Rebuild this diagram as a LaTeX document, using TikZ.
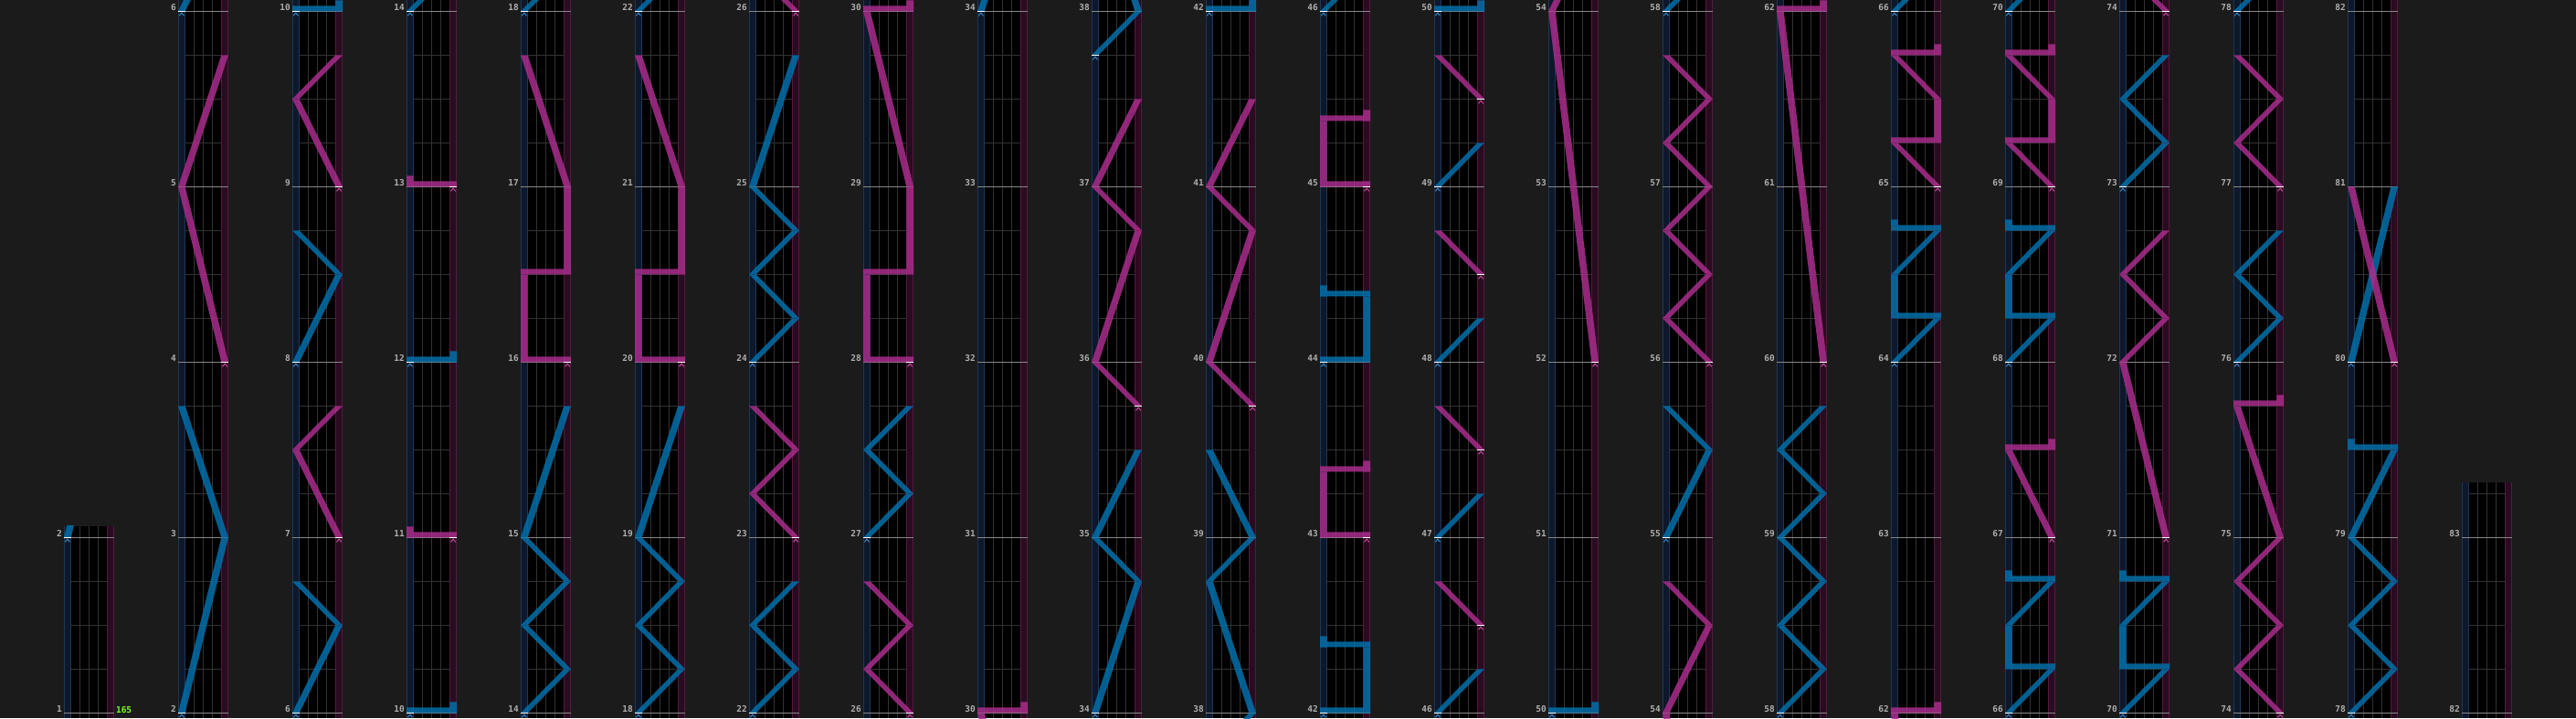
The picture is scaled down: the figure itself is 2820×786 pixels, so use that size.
\documentclass[tikz,border=0pt]{standalone}
\usepackage{fontspec}
\newfontfamily\lblfont{DejaVu Sans Mono}
\definecolor{bgc}{RGB}{27,27,27}
\definecolor{lanebf}{RGB}{14,24,44}
\definecolor{lanebb}{RGB}{30,55,85}
\definecolor{lanepf}{RGB}{42,12,32}
\definecolor{lanepb}{RGB}{85,25,65}
\definecolor{gridc}{RGB}{50,50,50}
\definecolor{measc}{RGB}{135,135,135}
\definecolor{lzb}{RGB}{0,112,170}
\definecolor{lzp}{RGB}{170,45,140}
\definecolor{mkb}{RGB}{60,140,200}
\definecolor{mkp}{RGB}{200,80,160}
\definecolor{lblc}{RGB}{175,175,175}
\definecolor{bpmc}{RGB}{125,255,30}
\tikzset{
  lasb/.style={fill=lzb},
  lasp/.style={fill=lzp},
  mkw/.style={draw=white,line width=0.28mm},
  mkcb/.style={draw=mkb,line width=0.18mm},
  mkcp/.style={draw=mkp,line width=0.18mm},
  gridline/.style={draw=gridc,line width=0.2mm},
  measline/.style={draw=measc,line width=0.22mm},
  lbl/.style={text=lblc,font=\lblfont\bfseries\fontsize{5.4}{6}\selectfont,inner sep=0pt},
}
\newif\ifmarkpass
\newcommand\Lz[5]{%
 \ifmarkpass\else\def\tmpc{#1}\ifx\tmpc\onlyc
 \ifdim #4pt<\Ta pt\relax\else\ifdim #2pt>\Tb pt\relax\else
 \fill[las#1] ({\colx+#3*47.3},{780.3-192*(#2-\tbase)}) -- ++(7.7,0)
   -- ({\colx+#5*47.3+7.7},{780.3-192*(#4-\tbase)}) -- ++(-7.7,0) -- cycle;
 \fi\fi\fi\fi}
\newcommand\Sl[4]{%
 \ifmarkpass\else\def\tmpc{#1}\ifx\tmpc\onlyc
 \ifdim #2pt<\Ta pt\relax\else\ifdim #2pt>\Tb pt\relax\else
 \fill[las#1] ({\colx+min(#3,#4)*47.3},{780.3-192*(#2-\tbase)}) rectangle ({\colx+max(#3,#4)*47.3+7.7},{774.3-192*(#2-\tbase)});
 \fi\fi\fi\fi}
\newcommand\Tl[3]{%
 \ifmarkpass\else\def\tmpc{#1}\ifx\tmpc\onlyc
 \ifdim #2pt<\Ta pt\relax\else\ifdim #2pt>\Tb pt\relax\else
 \fill[las#1] ({\colx+#3*47.3},{780.3-192*(#2-\tbase)}) rectangle ({\colx+#3*47.3+7.7},{768.3-192*(#2-\tbase)});
 \fi\fi\fi\fi}
\newcommand\Mk[3]{%
 \ifmarkpass
 \ifdim #2pt<\Ta pt\relax\else\ifdim #2pt>\Tb pt\relax\else
 \pgfmathsetmacro\mkx{\colx+#3*47.3}\pgfmathsetmacro\mky{780.3-192*(#2-\tbase)}%
 \draw[mkc#1] (\mkx+1.2,\mky+5) -- (\mkx+3.85,\mky+1.8) -- (\mkx+6.5,\mky+5);
 \draw[mkw] (\mkx,\mky) -- (\mkx+7.7,\mky);
 \fi\fi\fi}
\newcommand\chain[2]{%
  \gdef\prevt{}%
  \foreach \myT/\myP in {#2}{%
    \ifx\prevt\empty\else\Lz{#1}{\prevt}{\prevp}{\myT}{\myP}\fi
    \xdef\prevt{\myT}\xdef\prevp{\myP}%
  }}
\newcommand\AllLasers{%
\chain{b}{2/0,3/1,3.75/0}\Mk{b}{2}{0}
\chain{p}{4/1,5/0,5.75/1}\Mk{p}{4}{1}
\chain{b}{6/0,6.5/1,6.75/0}\Mk{b}{6}{0}
\chain{p}{7/1,7.5/0,7.75/1}\Mk{p}{7}{1}
\chain{b}{8/0,8.5/1,8.75/0}\Mk{b}{8}{0}
\chain{p}{9/1,9.5/0,9.75/1}\Mk{p}{9}{1}
\Sl{b}{10}{0}{1}\Tl{b}{10}{1}\Mk{b}{10}{0}
\Sl{p}{11}{1}{0}\Tl{p}{11}{0}\Mk{p}{11}{1}
\Sl{b}{12}{0}{1}\Tl{b}{12}{1}\Mk{b}{12}{0}
\Sl{p}{13}{1}{0}\Tl{p}{13}{0}\Mk{p}{13}{1}
\chain{b}{14/0,14.25/1,14.5/0,14.75/1,15/0,15.75/1}\Mk{b}{14}{0}
\Sl{p}{16}{1}{0}\chain{p}{16/0,16.5/0}\Sl{p}{16.5}{0}{1}\chain{p}{16.5/1,17/1,17.75/0}\Mk{p}{16}{1}
\chain{b}{18/0,18.25/1,18.5/0,18.75/1,19/0,19.75/1}\Mk{b}{18}{0}
\Sl{p}{20}{1}{0}\chain{p}{20/0,20.5/0}\Sl{p}{20.5}{0}{1}\chain{p}{20.5/1,21/1,21.75/0}\Mk{p}{20}{1}
\chain{b}{22/0,22.25/1,22.5/0,22.75/1}\Mk{b}{22}{0}
\chain{p}{23/1,23.25/0,23.5/1,23.75/0}\Mk{p}{23}{1}
\chain{b}{24/0,24.25/1,24.5/0,24.75/1,25/0,25.75/1}\Mk{b}{24}{0}
\chain{p}{26/1,26.25/0,26.5/1,26.75/0}\Mk{p}{26}{1}
\chain{b}{27/0,27.25/1,27.5/0,27.75/1}\Mk{b}{27}{0}
\Sl{p}{28}{1}{0}\chain{p}{28/0,28.5/0}\Sl{p}{28.5}{0}{1}\chain{p}{28.5/1,29/1,30/0}\Sl{p}{30}{0}{1}\Tl{p}{30}{1}\Mk{p}{28}{1}
\chain{b}{34/0,34.75/1,35/0,35.5/1}\Mk{b}{34}{0}
\chain{p}{35.75/1,36/0,36.75/1,37/0,37.5/1}\Mk{p}{35.75}{1}
\chain{b}{37.75/0,38/1,38.75/0,39/1,39.5/0}\Mk{b}{37.75}{0}
\chain{p}{39.75/1,40/0,40.75/1,41/0,41.5/1}\Mk{p}{39.75}{1}
\Sl{b}{42}{0}{1}\chain{b}{42/1,42.375/1}\Sl{b}{42.375}{1}{0}\Tl{b}{42.375}{0}\Mk{b}{42}{0}
\Sl{p}{43}{1}{0}\chain{p}{43/0,43.375/0}\Sl{p}{43.375}{0}{1}\Tl{p}{43.375}{1}\Mk{p}{43}{1}
\Sl{b}{44}{0}{1}\chain{b}{44/1,44.375/1}\Sl{b}{44.375}{1}{0}\Tl{b}{44.375}{0}\Mk{b}{44}{0}
\Sl{p}{45}{1}{0}\chain{p}{45/0,45.375/0}\Sl{p}{45.375}{0}{1}\Tl{p}{45.375}{1}\Mk{p}{45}{1}
\chain{b}{46/0,46.25/1}\Mk{b}{46}{0}
\chain{p}{46.5/1,46.75/0}\Mk{p}{46.5}{1}
\chain{b}{47/0,47.25/1}\Mk{b}{47}{0}
\chain{p}{47.5/1,47.75/0}\Mk{p}{47.5}{1}
\chain{b}{48/0,48.25/1}\Mk{b}{48}{0}
\chain{p}{48.5/1,48.75/0}\Mk{p}{48.5}{1}
\chain{b}{49/0,49.25/1}\Mk{b}{49}{0}
\chain{p}{49.5/1,49.75/0}\Mk{p}{49.5}{1}
\Sl{b}{50}{0}{1}\Tl{b}{50}{1}\Mk{b}{50}{0}
\chain{p}{52/1,54/0,54.5/1,54.75/0}\Mk{p}{52}{1}
\chain{b}{55/0,55.5/1,55.75/0}\Mk{b}{55}{0}
\chain{p}{56/1,56.25/0,56.5/1,56.75/0,57/1,57.25/0,57.5/1,57.75/0}\Mk{p}{56}{1}
\chain{b}{58/0,58.25/1,58.5/0,58.75/1,59/0,59.25/1,59.5/0,59.75/1}\Mk{b}{58}{0}
\chain{p}{60/1,62/0}\Sl{p}{62}{0}{1}\Tl{p}{62}{1}\Mk{p}{60}{1}
\chain{b}{64/0,64.25/1}\Sl{b}{64.25}{1}{0}\chain{b}{64.25/0,64.5/0,64.75/1}\Sl{b}{64.75}{1}{0}\Tl{b}{64.75}{0}\Mk{b}{64}{0}
\chain{p}{65/1,65.25/0}\Sl{p}{65.25}{0}{1}\chain{p}{65.25/1,65.5/1,65.75/0}\Sl{p}{65.75}{0}{1}\Tl{p}{65.75}{1}\Mk{p}{65}{1}
\chain{b}{66/0,66.25/1}\Sl{b}{66.25}{1}{0}\chain{b}{66.25/0,66.5/0,66.75/1}\Sl{b}{66.75}{1}{0}\Tl{b}{66.75}{0}\Mk{b}{66}{0}
\chain{p}{67/1,67.5/0}\Sl{p}{67.5}{0}{1}\Tl{p}{67.5}{1}\Mk{p}{67}{1}
\chain{b}{68/0,68.25/1}\Sl{b}{68.25}{1}{0}\chain{b}{68.25/0,68.5/0,68.75/1}\Sl{b}{68.75}{1}{0}\Tl{b}{68.75}{0}\Mk{b}{68}{0}
\chain{p}{69/1,69.25/0}\Sl{p}{69.25}{0}{1}\chain{p}{69.25/1,69.5/1,69.75/0}\Sl{p}{69.75}{0}{1}\Tl{p}{69.75}{1}\Mk{p}{69}{1}
\chain{b}{70/0,70.25/1}\Sl{b}{70.25}{1}{0}\chain{b}{70.25/0,70.5/0,70.75/1}\Sl{b}{70.75}{1}{0}\Tl{b}{70.75}{0}\Mk{b}{70}{0}
\chain{p}{71/1,72/0,72.25/1,72.5/0,72.75/1}\Mk{p}{71}{1}
\chain{b}{73/0,73.25/1,73.5/0,73.75/1}\Mk{b}{73}{0}
\chain{p}{74/1,74.25/0,74.5/1,74.75/0,75/1,75.75/0}\Sl{p}{75.75}{0}{1}\Tl{p}{75.75}{1}\Mk{p}{74}{1}
\chain{b}{76/0,76.25/1,76.5/0,76.75/1}\Mk{b}{76}{0}
\chain{p}{77/1,77.25/0,77.5/1,77.75/0}\Mk{p}{77}{1}
\chain{b}{78/0,78.25/1,78.5/0,78.75/1,79/0,79.5/1}\Sl{b}{79.5}{1}{0}\Tl{b}{79.5}{0}\Mk{b}{78}{0}
\chain{b}{80/0,81/1}\Mk{b}{80}{0}
\chain{p}{80/1,81/0}\Mk{p}{80}{1}
}
\newcommand\DrawCol[5]{%
\begin{scope}
  \pgfmathsetmacro\colx{70+125*#1}
  \edef\tbase{#2}
  \pgfmathsetmacro\Ta{#2-0.1}
  \pgfmathsetmacro\Tb{#2+4.2}
  \fill[black] (\colx,#3) rectangle (\colx+55,786);
  \fill[lanebf] (\colx,#3) rectangle (\colx+7.7,786);
  \fill[lanepf] (\colx+47.3,#3) rectangle (\colx+55,786);
  \foreach \xx/\cc in {0.4/lanebb,7.3/lanebb,47.7/lanepb,54.6/lanepb,17.3/gridc,27.3/gridc,37.3/gridc}
     \draw[\cc,line width=0.2mm] (\colx+\xx,#3) -- (\colx+\xx,786);
  \foreach \j in {0,...,#4}
     \draw[gridline] (\colx+7.7,780.3-48*\j) -- (\colx+47.3,780.3-48*\j);
  \foreach \m in {0,...,#5}{
     \draw[measline] (\colx,780.3-192*\m) -- (\colx+55,780.3-192*\m);
     \pgfmathtruncatemacro\mlab{#2+\m}
     \node[lbl,anchor=base east] (lab-\mlab-#1) at (\colx-1.8,780.3-192*\m-0.5) {\mlab};
  }
  \clip (\colx,#3) rectangle (\colx+55,786);
  \markpassfalse
  \def\onlyc{b}\begin{scope}[transparency group,opacity=0.85]\AllLasers\end{scope}
  \def\onlyc{p}\begin{scope}[transparency group,opacity=0.85]\AllLasers\end{scope}
  \markpasstrue\AllLasers
\end{scope}}
\begin{document}
\begin{tikzpicture}[x=0.2mm,y=-0.2mm]
\fill[bgc] (0,0) rectangle (2820,786);
\useasboundingbox (0,0) rectangle (2820,786);
\DrawCol{0}{1}{575.7}{4}{1}
\foreach \k in {1,...,20}{\pgfmathtruncatemacro\TT{4*\k-2}\DrawCol{\k}{\TT}{0}{16}{4}}
\DrawCol{21}{82}{528.3}{5}{1}
\node[anchor=base west,inner sep=0pt,text=bpmc,font=\lblfont\bfseries\fontsize{5.4}{6}\selectfont] (bpm) at (126.7,780.3) {165};
\end{tikzpicture}
\end{document}
